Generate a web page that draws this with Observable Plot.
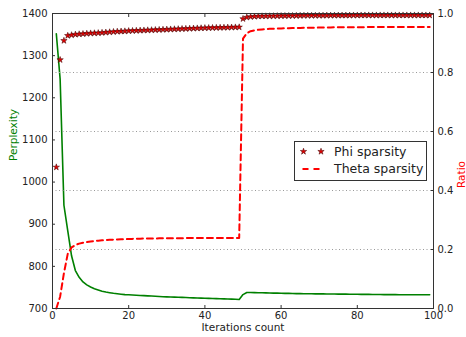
<!DOCTYPE html>
<html><head><meta charset="utf-8">
<script src="https://cdn.jsdelivr.net/npm/d3@7"></script>
<script src="https://cdn.jsdelivr.net/npm/@observablehq/plot@0.6"></script>
<style>
body{margin:0;background:#fff;font-family:"DejaVu Sans",sans-serif;}
#wrap{position:relative;width:466px;height:337px;overflow:hidden;}
#wrap > svg{position:absolute;left:0;top:0;}
#legend{position:absolute;left:294px;top:141px;width:131px;height:38px;border:1px solid #333;background:#fff;font-size:12.5px;color:#222;}
#legend .t{position:absolute;left:39px;line-height:14px;white-space:nowrap;}
#legend svg{position:absolute;left:0;top:0;}
</style></head><body><div id="wrap"><div id="legend"></div></div>
<script>
const iterations = d3.range(1, 100);
const perplexity = [1352,1245,945,885,825,790,774,763,756,751,
747,744,741,739,737.5,736,735,734,733,732.5,
732,731.5,731,730.5,730,729.5,729,728.5,728,727.7,
727.3,727,726.6,726.3,726,725.6,725.3,725,724.6,724.3,
724,723.7,723.4,723.1,722.8,722.5,722.2,721.8,721.4,733,
738,737.8,737.6,737.4,737.2,737,736.8,736.6,736.4,736.2,
736,735.8,735.6,735.4,735.2,735.1,735,734.9,734.8,734.7,
734.6,734.5,734.4,734.3,734.2,734.1,734,733.9,733.8,733.7,
733.6,733.5,733.4,733.3,733.2,733.1,733,733,732.9,732.9,
732.8,732.8,732.7,732.7,732.6,732.6,732.5,732.5,732.5];
const theta = [0,0.04,0.12,0.185,0.207,0.215,0.22,0.223,0.225,0.227,
0.229,0.23,0.231,0.232,0.233,0.2335,0.234,0.2345,0.235,0.2355,
0.236,0.2363,0.2366,0.237,0.2372,0.2374,0.2376,0.2378,0.238,0.2381,
0.2382,0.2383,0.2384,0.2385,0.2386,0.2387,0.2387,0.2388,0.2388,0.2389,
0.2389,0.239,0.239,0.239,0.239,0.239,0.239,0.239,0.239,0.915,
0.933,0.94,0.943,0.945,0.946,0.947,0.948,0.9485,0.949,0.9495,
0.95,0.9503,0.9506,0.951,0.9512,0.9514,0.9516,0.9518,0.952,0.9522,
0.9524,0.9526,0.9528,0.953,0.9531,0.9532,0.9533,0.9534,0.9535,0.9536,
0.9537,0.9538,0.9539,0.954,0.954,0.954,0.9541,0.9541,0.9542,0.9542,
0.9543,0.9543,0.9544,0.9544,0.9545,0.9545,0.9545,0.9545,0.9545];
const phi = [0.479,0.843,0.908,0.925,0.927,0.929,0.93,0.931,0.932,0.933,
0.9335,0.934,0.935,0.936,0.937,0.938,0.939,0.9395,0.94,0.941,
0.9415,0.942,0.9425,0.943,0.9435,0.944,0.9445,0.945,0.9455,0.946,
0.9465,0.947,0.9475,0.948,0.9485,0.949,0.9495,0.95,0.9505,0.951,
0.9513,0.9516,0.9519,0.9522,0.9525,0.9528,0.9531,0.9534,0.9537,0.982,
0.987,0.989,0.99,0.9905,0.991,0.991,0.9913,0.9915,0.9917,0.9919,
0.992,0.9922,0.9924,0.9926,0.9928,0.993,0.993,0.993,0.9931,0.9932,
0.9933,0.9934,0.9935,0.9935,0.9936,0.9936,0.9937,0.9937,0.9938,0.9938,
0.9939,0.9939,0.994,0.994,0.994,0.994,0.994,0.994,0.994,0.994,
0.994,0.994,0.994,0.994,0.994,0.994,0.994,0.994,0.994];
const xTicks = [0,20,40,60,80,100];
const perplexityTicks = [700,800,900,1000,1100,1200,1300,1400];
const ratioTicks = [0,0.2,0.4,0.6,0.8,1.0];
const ratioGrid = [0.2,0.4,0.6,0.8];
const legendLabels = ["Phi sparsity","Theta sparsity"];

const ppl = iterations.map((it,i)=>({it, v: perplexity[i]}));
const th = iterations.map((it,i)=>({it, v: theta[i]}));
const ph = iterations.map((it,i)=>({it, v: phi[i]}));

const common = {
  width:466, height:337, marginLeft:52, marginRight:33, marginTop:13, marginBottom:29,
  style:{background:"transparent", fontFamily:"DejaVu Sans", fontSize:"10px", color:"#222", overflow:"visible"}
};

const p1 = Plot.plot({...common,
  x:{domain:[0,100]},
  y:{domain:[700,1400]},
  marks:[
    Plot.line(ppl, {x:"it", y:"v", stroke:"#008000", strokeWidth:1.6}),
    Plot.axisY(perplexityTicks, {anchor:"left", tickSize:-3, tickPadding:8, tickFormat:d3.format("d"), label:null, stroke:"#333"}),
    Plot.axisX(xTicks, {anchor:"bottom", tickSize:-3, tickPadding:6, tickFormat:d3.format("d"), label:null, stroke:"#333"}),
    Plot.axisX(xTicks, {anchor:"top", tickSize:-3, tickFormat:()=>"", label:null, stroke:"#333"}),
    Plot.text(["Perplexity"], {frameAnchor:"left", dx:-39, rotate:-90, text:d=>d, fill:"#008000", fontSize:10.5}),
    Plot.text(["Iterations count"], {frameAnchor:"bottom", dy:22, text:d=>d, fill:"#222", fontSize:10.5})
  ]
});

const p2 = Plot.plot({...common,
  x:{domain:[0,100], axis:null},
  y:{domain:[0,1]},
  marks:[
    Plot.gridY(ratioGrid, {stroke:"#999", strokeOpacity:1, strokeDasharray:"1,2.5"}),
    Plot.line(th, {x:"it", y:"v", stroke:"#ff0000", strokeWidth:2, strokeDasharray:"6,4"}),
    Plot.dot(ph, {x:"it", y:"v", symbol:"star", r:2, fill:"#e00000", stroke:"#400000", strokeWidth:0.5}),
    Plot.axisY(ratioTicks, {anchor:"right", tickSize:-3, tickPadding:7, tickFormat:d3.format(".1f"), label:null, stroke:"#333"}),
    Plot.text(["Ratio"], {frameAnchor:"right", dx:28, rotate:-90, text:d=>d, fill:"#ff0000", fontSize:10.5}),
    Plot.frame({stroke:"#333"})
  ]
});

const wrap = document.getElementById("wrap");
const legend = document.getElementById("legend");
wrap.insertBefore(p1, legend);
wrap.insertBefore(p2, legend);

// legend
const ns = "http://www.w3.org/2000/svg";
const lsvg = document.createElementNS(ns, "svg");
lsvg.setAttribute("width", 40); lsvg.setAttribute("height", 38);
const starPath = d3.symbol(d3.symbolStar, Math.PI*2*2)();
[8.5, 26].forEach(cx=>{
  const p = document.createElementNS(ns, "path");
  p.setAttribute("d", starPath);
  p.setAttribute("transform", `translate(${cx},9.5)`);
  p.setAttribute("fill", "#e00000"); p.setAttribute("stroke", "#400000"); p.setAttribute("stroke-width", 0.5);
  lsvg.appendChild(p);
});
const ln = document.createElementNS(ns, "line");
ln.setAttribute("x1", 7.5); ln.setAttribute("x2", 24.5); ln.setAttribute("y1", 27); ln.setAttribute("y2", 27);
ln.setAttribute("stroke", "#ff0000"); ln.setAttribute("stroke-width", 2); ln.setAttribute("stroke-dasharray", "6,5");
lsvg.appendChild(ln);
legend.appendChild(lsvg);
legendLabels.forEach((t,i)=>{
  const s = document.createElement("div");
  s.className = "t"; s.textContent = t; s.style.top = (i===0 ? 2.5 : 20) + "px";
  legend.appendChild(s);
});
</script>
</body></html>
